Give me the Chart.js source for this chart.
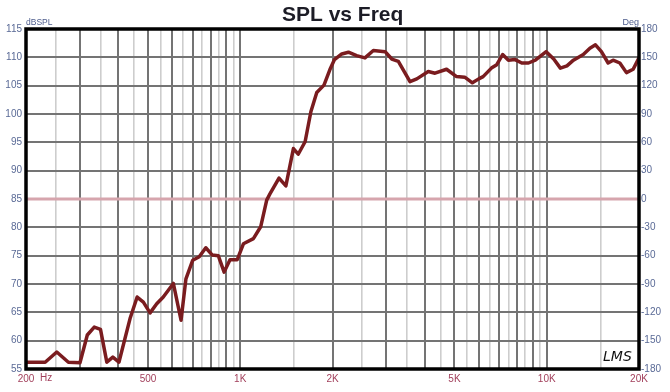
<!DOCTYPE html>
<html>
<head>
<meta charset="utf-8">
<script src="https://cdn.jsdelivr.net/npm/chart.js@4.4.1/dist/chart.umd.min.js"></script>
<style>
  html, body { margin: 0; padding: 0; background: #ffffff; }
  #chart { display: block; }
</style>
</head>
<body>
<canvas id="chart" width="670" height="392"></canvas>
<script>
// SPL response (Hz / dB)
const freqs = [200, 231, 252, 275, 300, 317, 334, 350, 367, 384, 402, 437, 461, 483, 508, 534, 561, 605, 641, 665,
  700, 735, 772, 811, 848, 886, 926, 978, 1024, 1104, 1166, 1220, 1250, 1338, 1409, 1491, 1546, 1628, 1700, 1777,
  1876, 1960, 2030, 2144, 2254, 2398, 2552, 2718, 2970, 3122, 3280, 3580, 3768, 4107, 4320, 4712, 5080, 5400, 5720, 6000,
  6200, 6600, 6870, 7180, 7500, 7880, 8290, 8720, 9180, 9960, 10540, 11080, 11640, 12220, 13160, 13830, 14420, 15080,
  15860, 16460, 17320, 18200, 19140, 20000];
const spl = [56.2, 56.2, 58.0, 56.2, 56.1, 61.0, 62.4, 62.0, 56.2, 57.1, 56.2, 63.9, 67.7, 66.8, 64.9, 66.5, 67.7, 70.1, 63.6, 70.9,
  74.2, 74.8, 76.4, 75.1, 75.0, 72.1, 74.3, 74.3, 77.1, 78.0, 80.1, 84.8, 85.9, 88.7, 87.3, 93.9, 92.9, 95.1, 100.4, 103.8,
  105.1, 107.8, 109.6, 110.6, 110.9, 110.3, 109.9, 111.2, 111.0, 109.7, 109.3, 105.7, 106.2, 107.5, 107.2, 107.9, 106.6, 106.5, 105.5, 106.2,
  106.6, 108.1, 108.7, 110.5, 109.5, 109.6, 109.0, 109.0, 109.5, 111.0, 109.7, 108.1, 108.5, 109.5, 110.5, 111.6, 112.2, 111.0,
  109.0, 109.5, 109.0, 107.3, 107.9, 109.9];

// phase trace (flat at 0 deg)
const phaseFreqs = [200, 20000];
const phaseDeg = [0, 0];

// labelled frequencies on the x axis
const xLabelFreqs = [200, 500, 1000, 2000, 5000, 10000, 20000];
const xLabelTexts = ['200', '500', '1K', '2K', '5K', '10K', '20K'];

// grid: dark line at each 1..9 x decade, light one at the halves
const gridFreqs = [];
const majorFreqs = new Set();
[100, 1000, 10000].forEach(function(decade) {
  for (let m = 1; m < 10; m += 0.5) {
    const v = Math.round(m * decade);
    if (v < 200 || v > 20000) continue;
    gridFreqs.push(v);
    if (m % 1 === 0) majorFreqs.add(v);
  }
});

const FONT = '"Liberation Sans", Arial, sans-serif';
const DARK_GRID = '#747474';
const LIGHT_GRID = '#cdcdcd';
const AXIS_BLUE = '#5a6a96';

const frameAndText = {
  id: 'frameAndText',
  afterDraw(chart) {
    const ctx = chart.ctx;
    const a = chart.chartArea;
    ctx.save();
    ctx.strokeStyle = '#000000';
    ctx.lineWidth = 3.5;
    ctx.strokeRect(a.left, a.top, a.right - a.left, a.bottom - a.top);

    ctx.fillStyle = '#1c1c26';
    ctx.font = 'bold 21px ' + FONT;
    ctx.textAlign = 'left';
    ctx.textBaseline = 'alphabetic';
    ctx.fillText('SPL vs Freq', 282, 20.5);

    ctx.fillStyle = '#4d5c8c';
    ctx.font = '8.5px ' + FONT;
    ctx.textBaseline = 'middle';
    ctx.fillText('dBSPL', a.left, 22.5);
    ctx.textAlign = 'right';
    ctx.font = '9px ' + FONT;
    ctx.fillText('Deg', a.right, 22.5);

    ctx.textAlign = 'left';
    ctx.fillStyle = '#a2405c';
    ctx.font = '10px ' + FONT;
    ctx.fillText('Hz', 40, a.bottom + 9);

    ctx.fillStyle = '#111111';
    ctx.font = 'italic 14px "DejaVu Sans", sans-serif';
    ctx.fillText('LMS', 603, a.bottom - 12);
    ctx.restore();
  }
};

new Chart(document.getElementById('chart'), {
  type: 'line',
  data: {
    datasets: [{
      label: 'SPL',
      data: freqs.map((f, i) => ({ x: f, y: spl[i] })),
      yAxisID: 'y',
      borderColor: '#7a1c1f',
      borderWidth: 3.5,
      borderJoinStyle: 'round',
      borderCapStyle: 'round',
      pointRadius: 0,
      tension: 0,
    },
    {
      label: 'Phase',
      data: phaseFreqs.map((f, i) => ({ x: f, y: phaseDeg[i] })),
      yAxisID: 'y2',
      borderColor: '#d6a5ad',
      borderWidth: 3,
      pointRadius: 0,
    }]
  },
  options: {
    responsive: false,
    animation: false,
    layout: { padding: { top: 29, left: 0, right: 0, bottom: 0 } },
    plugins: {
      legend: { display: false },
      title: { display: false },
      tooltip: { enabled: false },
    },
    scales: {
      x: {
        type: 'logarithmic',
        min: 200,
        max: 20000,
        afterBuildTicks: function(scale) {
          scale.ticks = gridFreqs.map(v => ({ value: v }));
        },
        afterFit: function(scale) { scale.height = 23; },
        border: { display: false },
        grid: {
          drawTicks: false,
          color: ctx => (ctx.tick && majorFreqs.has(ctx.tick.value)) ? DARK_GRID : LIGHT_GRID,
          lineWidth: ctx => (ctx.tick && majorFreqs.has(ctx.tick.value)) ? 2 : 1.6,
        },
        ticks: {
          autoSkip: false,
          maxRotation: 0,
          padding: 4,
          color: '#a2405c',
          font: { size: 10, family: FONT },
          callback: function(value) {
            const i = xLabelFreqs.indexOf(Math.round(value));
            return i >= 0 ? xLabelTexts[i] : '';
          }
        }
      },
      y: {
        position: 'left',
        min: 55,
        max: 115,
        afterFit: function(scale) { scale.width = 26; },
        border: { display: false },
        grid: {
          drawTicks: false,
          color: ctx => (ctx.tick && ctx.tick.value % 5 === 0) ? DARK_GRID : LIGHT_GRID,
          lineWidth: ctx => (ctx.tick && ctx.tick.value % 5 === 0) ? 2 : 1.6,
        },
        ticks: {
          stepSize: 2.5,
          padding: 4,
          color: AXIS_BLUE,
          font: { size: 10, family: FONT },
          callback: v => (v % 5 === 0 ? v : ''),
        }
      },
      y2: {
        position: 'right',
        min: -180,
        max: 180,
        afterFit: function(scale) { scale.width = 31; },
        border: { display: false },
        grid: { display: false, drawTicks: false },
        ticks: {
          stepSize: 30,
          padding: 2,
          color: AXIS_BLUE,
          font: { size: 10, family: FONT },
        }
      }
    }
  },
  plugins: [frameAndText]
});
</script>
</body>
</html>
